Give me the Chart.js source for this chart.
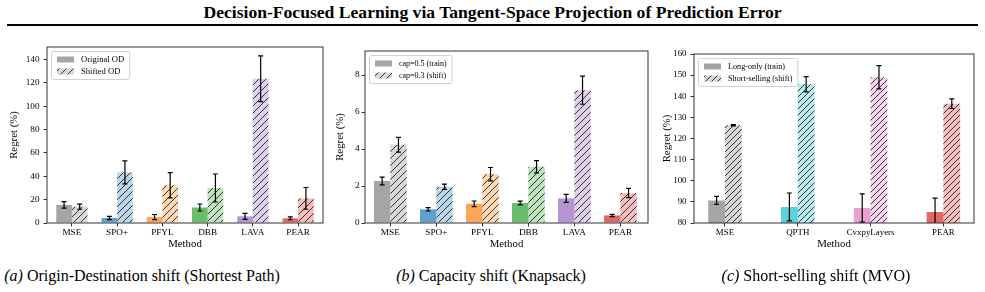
<!DOCTYPE html>
<html>
<head>
<meta charset="utf-8">
<script src="https://cdn.jsdelivr.net/npm/chart.js@4.4.0/dist/chart.umd.min.js"></script>
<style>
  html, body { margin: 0; padding: 0; background: #fff; }
  #page { position: relative; width: 985px; height: 292px; font-family: 'Liberation Serif', 'Times New Roman', serif; color: #000; overflow: hidden; }
  #title { position: absolute; left: 0; top: 2px; width: 985px; text-align: center; font-weight: bold; font-size: 17.6px; line-height: 20px; }
  #rule { position: absolute; left: 7px; top: 24px; width: 971px; height: 2px; background: #000; }
  .panel { position: absolute; top: 30px; width: 330px; height: 232px; }
  .caption { position: absolute; top: 267px; font-size: 16px; line-height: 17px; white-space: nowrap; transform: translateX(-50%); }
</style>
</head>
<body>
<div id="page">
  <div id="title">Decision-Focused Learning via Tangent-Space Projection of Prediction Error</div>
  <div id="rule"></div>
  <div class="panel" style="left:0px"><canvas id="odChart"></canvas></div>
  <div class="panel" style="left:330px"><canvas id="capChart"></canvas></div>
  <div class="panel" style="left:655px"><canvas id="mvoChart"></canvas></div>
  <div class="caption" style="left:142px"><i>(a)</i> Origin-Destination shift (Shortest Path)</div>
  <div class="caption" style="left:491px"><i>(b)</i> Capacity shift (Knapsack)</div>
  <div class="caption" style="left:816px"><i>(c)</i> Short-selling shift (MVO)</div>
</div>
<script>
// (a) shortest path, origin-destination shift
const odMethods = ['MSE', 'SPO+', 'PFYL', 'DBB', 'LAVA', 'PEAR'];
const odOriginal = [15.5, 4.3, 5.1, 13.3, 5.7, 4.0];
const odOriginalErr = [2.8, 1.4, 2.2, 3.0, 2.6, 1.2];
const odShifted = [14.0, 43.4, 32.3, 30.0, 123.6, 21.1];
const odShiftedErr = [2.2, 9.8, 10.8, 12.0, 19.6, 9.3];
const odTicks = [0, 20, 40, 60, 80, 100, 120, 140];

// (b) knapsack, capacity shift
const capMethods = ['MSE', 'SPO+', 'PFYL', 'DBB', 'LAVA', 'PEAR'];
const capTrain = [2.27, 0.74, 1.04, 1.08, 1.33, 0.41];
const capTrainErr = [0.21, 0.09, 0.15, 0.10, 0.22, 0.06];
const capShift = [4.23, 1.96, 2.64, 3.04, 7.18, 1.62];
const capShiftErr = [0.40, 0.14, 0.36, 0.33, 0.76, 0.25];
const capTicks = [0, 2, 4, 6, 8];

// (c) MVO, short-selling shift
const mvoMethods = ['MSE', 'QPTH', 'CvxpyLayers', 'PEAR'];
const mvoLong = [90.7, 87.6, 87.1, 85.2];
const mvoLongErr = [1.9, 6.6, 6.7, 6.6];
const mvoShort = [126.3, 145.7, 149.0, 136.5];
const mvoShortErr = [0.3, 3.6, 5.5, 2.3];
const mvoTicks = [80, 90, 100, 110, 120, 130, 140, 150, 160];

const tab = {
  blue: '31,119,180', orange: '255,127,14', green: '44,160,44', red: '214,39,40',
  purple: '148,103,189', gray: '127,127,127', pink: '227,119,194', cyan: '23,190,207',
};
const odColors = ['gray', 'blue', 'orange', 'green', 'purple', 'red'];
const mvoColors = ['gray', 'cyan', 'pink', 'red'];

const FONT = "'Liberation Serif', 'Times New Roman', serif";

function hatch(rgb, size) {
  const c = document.createElement('canvas');
  c.width = size; c.height = size;
  const g = c.getContext('2d');
  g.fillStyle = 'rgba(' + rgb + ',0.3)';
  g.fillRect(0, 0, size, size);
  g.strokeStyle = 'rgba(0,0,0,0.85)';
  g.lineWidth = 0.9;
  g.beginPath();
  g.moveTo(-1, size + 1); g.lineTo(size + 1, -1);
  g.moveTo(-1, 1); g.lineTo(1, -1);
  g.moveTo(size - 1, size + 1); g.lineTo(size + 1, size - 1);
  g.stroke();
  return g.createPattern(c, 'repeat');
}

const errorBars = {
  id: 'errorBars',
  afterDatasetsDraw(chart) {
    const { ctx, chartArea: a } = chart;
    const y = chart.scales.y;
    ctx.save();
    ctx.beginPath();
    ctx.rect(a.left, a.top, a.right - a.left, a.bottom - a.top);
    ctx.clip();
    ctx.strokeStyle = '#000';
    ctx.lineWidth = 1.2;
    chart.data.datasets.forEach((ds, i) => {
      chart.getDatasetMeta(i).data.forEach((bar, j) => {
        const v = ds.data[j].y, e = ds.errors[j];
        const top = y.getPixelForValue(v + e), bot = y.getPixelForValue(v - e);
        ctx.beginPath();
        ctx.moveTo(bar.x, top); ctx.lineTo(bar.x, bot);
        ctx.moveTo(bar.x - 2.5, top); ctx.lineTo(bar.x + 2.5, top);
        ctx.moveTo(bar.x - 2.5, bot); ctx.lineTo(bar.x + 2.5, bot);
        ctx.stroke();
      });
    });
    ctx.restore();
    // axes frame
    ctx.save();
    ctx.strokeStyle = '#333';
    ctx.lineWidth = 1;
    ctx.strokeRect(a.left, a.top, a.right - a.left, a.bottom - a.top);
    ctx.restore();
  },
};

const legendBox = {
  id: 'legendBox',
  afterDraw(chart, args, opts) {
    const { ctx, chartArea: a } = chart;
    const ds = chart.data.datasets;
    ctx.save();
    ctx.font = opts.size + 'px ' + FONT;
    const textW = Math.max(...ds.map((d) => ctx.measureText(d.label).width));
    const x0 = a.left + 4, y0 = a.top + 4;
    const w = 30 + textW + 5, h = 28;
    ctx.beginPath();
    ctx.roundRect(x0 + 0.5, y0 + 0.5, w, h, 2);
    ctx.fillStyle = 'rgba(255,255,255,0.8)';
    ctx.fill();
    ctx.strokeStyle = '#d0d0d0';
    ctx.lineWidth = 1;
    ctx.stroke();
    ds.forEach((d, i) => {
      const cy = y0 + 8.5 + i * 12;
      ctx.fillStyle = d.backgroundColor[0];
      ctx.fillRect(x0 + 6, cy - 3, 17, 6);
      ctx.fillStyle = '#000';
      ctx.textBaseline = 'middle';
      ctx.fillText(d.label, x0 + 30, cy + 0.5);
    });
    ctx.restore();
  },
};

function panel(id, p) {
  const n = p.labels.length;
  return new Chart(document.getElementById(id), {
    type: 'bar',
    plugins: [errorBars, legendBox],
    data: {
      datasets: [
        {
          label: p.legend[0],
          data: p.first.map((v, i) => ({ x: i, y: v })),
          errors: p.firstErr,
          backgroundColor: p.colors.map((c) => 'rgba(' + tab[c] + ',0.7)'),
        },
        {
          label: p.legend[1],
          data: p.second.map((v, i) => ({ x: i, y: v })),
          errors: p.secondErr,
          backgroundColor: p.colors.map((c) => hatch(tab[c], p.hatch)),
        },
      ],
    },
    options: {
      animation: false,
      responsive: true,
      maintainAspectRatio: false,
      devicePixelRatio: 1,
      categoryPercentage: p.groupWidth,
      barPercentage: 1.0,
      layout: { padding: { left: 0, top: p.padTop, right: p.padRight, bottom: 0 } },
      plugins: {
        legend: { display: false },
        tooltip: { enabled: false },
        legendBox: { size: p.legendSize },
      },
      scales: {
        x: {
          type: 'linear',
          offset: false,
          min: p.xMin,
          max: n - 1 + p.xMax,
          afterBuildTicks: (s) => { s.ticks = p.labels.map((_, i) => ({ value: i })); },
          afterFit: (s) => { s.height = 232 - (p.plotBottom - 30); },
          ticks: {
            autoSkip: false, maxRotation: 0, padding: 1, color: '#000',
            font: { family: FONT, size: p.tickSize },
            callback: (v) => p.labels[v],
          },
          grid: { drawOnChartArea: false, offset: false, tickLength: 3.5, tickColor: '#333' },
          border: { display: false },
          title: {
            display: true, text: 'Method', color: '#000',
            font: { family: FONT, size: 10.8 }, padding: { top: 0, bottom: 11.5 },
          },
        },
        y: {
          min: p.yMin,
          max: p.yMax,
          afterBuildTicks: (s) => { s.ticks = p.yTicks.map((v) => ({ value: v })); },
          afterFit: (s) => { s.width = p.yWidth; },
          ticks: { color: '#000', padding: p.yPad, font: { family: FONT, size: p.tickSize } },
          grid: { drawOnChartArea: false, tickLength: 3.5, tickColor: '#333' },
          border: { display: false },
          title: {
            display: true, text: 'Regret (%)', color: '#000',
            font: { family: FONT, size: 10.8 }, padding: { top: p.yTitlePad, bottom: 0 },
          },
        },
      },
    },
  });
}

panel('odChart', {
  labels: odMethods, legend: ['Original OD', 'Shifted OD'], colors: odColors,
  first: odOriginal, firstErr: odOriginalErr, second: odShifted, secondErr: odShiftedErr,
  yTicks: odTicks, yMin: 0, yMax: 150.8, xMin: -0.55, xMax: 0.55,
  groupWidth: 0.69, hatch: 7, legendSize: 8.6, tickSize: 9.2,
  padTop: 17, padRight: 7, yWidth: 47, plotBottom: 223, yPad: 4, yTitlePad: 7.5,
});

panel('capChart', {
  labels: capMethods, legend: ['cap=0.5 (train)', 'cap=0.3 (shift)'], colors: odColors,
  first: capTrain, firstErr: capTrainErr, second: capShift, secondErr: capShiftErr,
  yTicks: capTicks, yMin: 0, yMax: 9.3, xMin: -0.55, xMax: 0.6,
  groupWidth: 0.71, hatch: 7, legendSize: 8, tickSize: 9.2,
  padTop: 21, padRight: 12, yWidth: 35, plotBottom: 223, yPad: 2, yTitlePad: 4,
});

panel('mvoChart', {
  labels: mvoMethods, legend: ['Long-only (train)', 'Short-selling (shift)'], colors: mvoColors,
  first: mvoLong, firstErr: mvoLongErr, second: mvoShort, secondErr: mvoShortErr,
  yTicks: mvoTicks, yMin: 80, yMax: 160, xMin: -0.425, xMax: 0.42,
  groupWidth: 0.46, hatch: 6, legendSize: 8.2, tickSize: 8.9,
  padTop: 24, padRight: 11, yWidth: 39, plotBottom: 223, yPad: 4, yTitlePad: 5.5,
});
</script>
</body>
</html>
